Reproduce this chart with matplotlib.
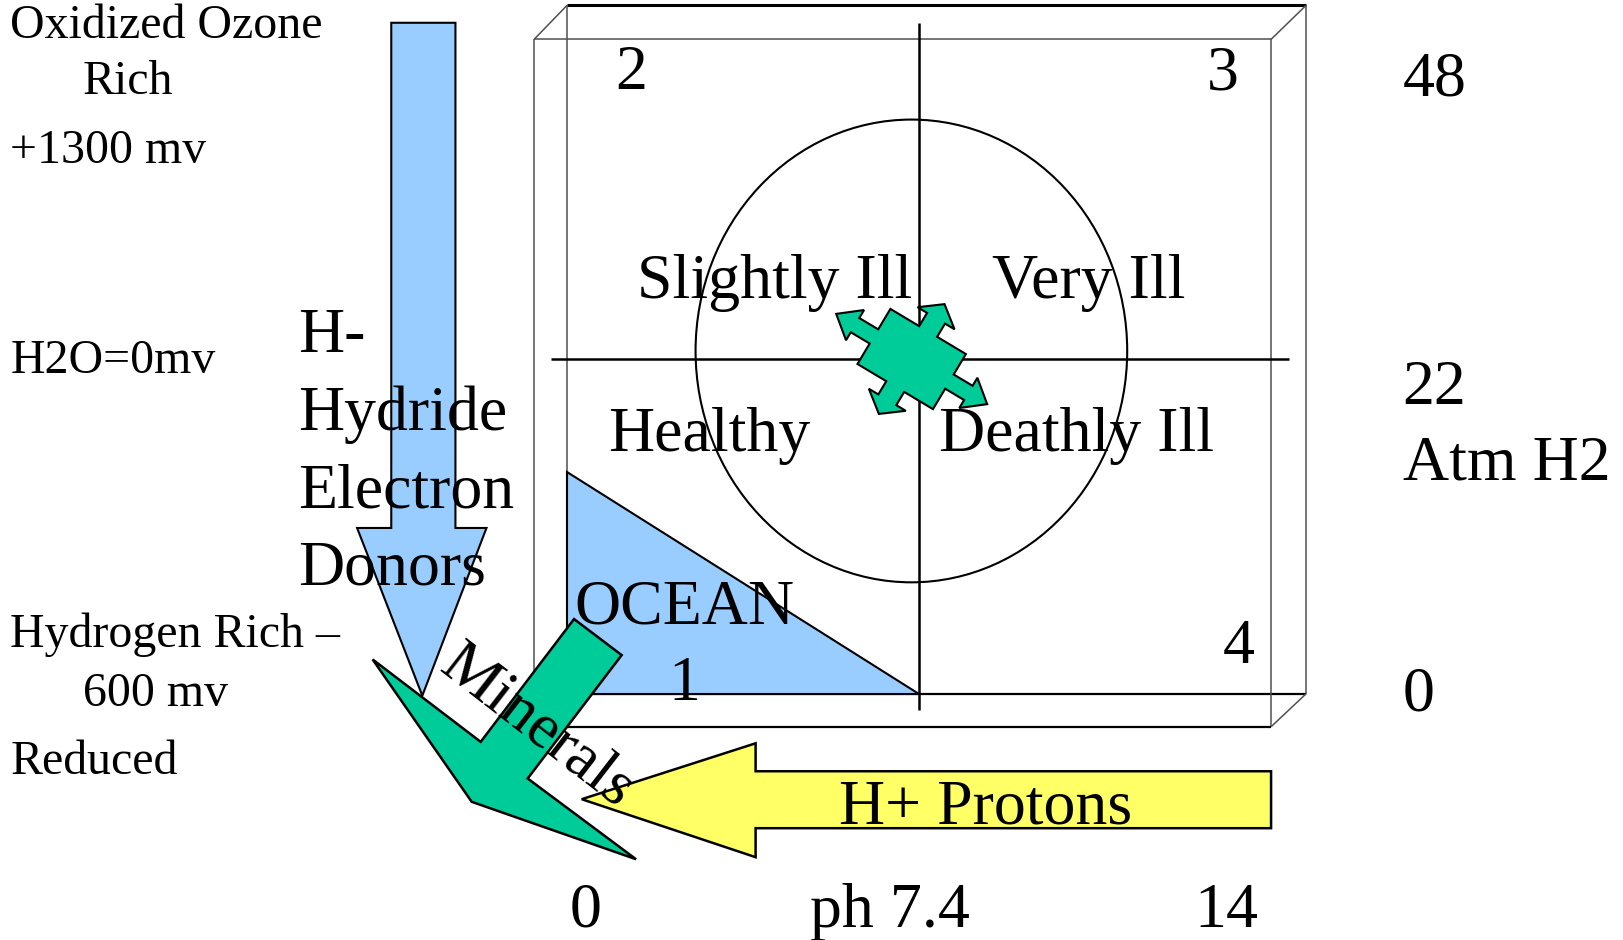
import matplotlib
matplotlib.use('Agg')
import matplotlib.pyplot as plt
from matplotlib.patches import Polygon, Ellipse
import numpy as np

plt.rcParams['font.family'] = ['Liberation Serif', 'DejaVu Serif']

# ---- text content of the diagram ----
redox_labels = ["Oxidized Ozone", "Rich", "+1300 mv", "H2O=0mv",
                "Hydrogen Rich \u2013", "600 mv", "Reduced"]
donor_labels = ["H-", "Hydride", "Electron", "Donors"]
quadrant_labels = ["Slightly Ill", "Very Ill", "Healthy", "Deathly Ill"]
corner_numbers = ["2", "3", "4"]
ocean_labels = ["OCEAN", "1"]
h2_ticks = ["48", "22", "Atm H2", "0"]
ph_ticks = ["0", "ph 7.4", "14"]
arrow_labels = ["Minerals", "H+ Protons"]

# ---- canvas in reference pixel units ----
W, H = 1568, 908
fig = plt.figure(figsize=(16.23, 9.40), dpi=100)
ax = fig.add_axes([0, 0, 1, 1])
ax.set_xlim(0, W)
ax.set_ylim(H, 0)
ax.axis('off')

BLUE = '#99CCFF'
GREEN = '#00CC99'
YELLOW = '#FFFF66'
GRAY = '#505050'
SMALL = 34.5
BIG = 46


def seg(p, q, color='black', lw=1.2, z=1):
    ax.plot([p[0], q[0]], [p[1], q[1]], color=color, lw=lw,
            solid_capstyle='butt', zorder=z)


# ---- 3D box ----
seg((548, 5), (1262, 5), 'black', 2.2)
seg((548, 5), (548, 670), GRAY, 1.1)
seg((1262, 5), (1262, 670), GRAY, 1.1)
seg((548, 670), (1262, 670), 'black', 1.6)
seg((516, 38), (1228, 38), GRAY, 1.1)
seg((516, 38), (516, 702), GRAY, 1.1)
seg((1228, 38), (1228, 702), GRAY, 1.1)
seg((516, 702), (1228, 702), 'black', 1.6)
seg((516, 38), (548, 5), GRAY, 1.1)
seg((1228, 38), (1262, 5), GRAY, 1.1)
seg((1228, 702), (1262, 670), GRAY, 1.1)
seg((516, 702), (548, 670), GRAY, 1.1)

# quadrant cross lines
seg((888, 22), (888, 686), 'black', 1.8, 2)
seg((532, 347), (1245, 347), 'black', 1.8, 2)

# circle
ax.add_patch(Ellipse((880.5, 339), 417, 447, fill=False, ec='black',
                     lw=1.5, zorder=2))

# ocean triangle
ax.add_patch(Polygon([(548, 456), (548, 670), (888, 670)], closed=True,
                     fc=BLUE, ec='black', lw=1.5, zorder=3))

# blue down arrow
ax.add_patch(Polygon([(378, 22), (440, 22), (440, 510), (470, 510),
                      (408, 672), (345, 510), (378, 510)], closed=True,
                     fc=BLUE, ec='black', lw=1.5, zorder=3))

# big green bent arrow
ax.add_patch(Polygon([(360, 637), (464.4, 716.6), (554.6, 598),
                      (600.6, 632.8), (509.8, 752), (614.5, 830),
                      (455.7, 774.5)], closed=True,
                     fc=GREEN, ec='black', lw=1.8, zorder=4))

# yellow arrow
ax.add_patch(Polygon([(1228, 745), (1228, 800), (730, 800), (730, 828),
                      (562, 772), (730, 718), (730, 745)], closed=True,
                     fc=YELLOW, ec='black', lw=1.8, zorder=4))

# green four-way arrow
A, B = 42.5, 31
sw, hb, hw, tp = 8, 63.8, 17, 85
sw2, hb2, hw2, tp2 = 10.1, 45.9, 20.8, 61.8
local = [(A, -sw), (hb, -sw), (hb, -hw), (tp, 0), (hb, hw), (hb, sw), (A, sw),
         (A, B), (sw2, B), (sw2, hb2), (hw2, hb2), (0, tp2), (-hw2, hb2),
         (-sw2, hb2), (-sw2, B), (-A, B), (-A, sw), (-hb, sw), (-hb, hw),
         (-tp, 0), (-hb, -hw), (-hb, -sw), (-A, -sw), (-A, -B), (-sw2, -B),
         (-sw2, -hb2), (-hw2, -hb2), (0, -tp2), (hw2, -hb2), (sw2, -hb2),
         (sw2, -B), (A, -B)]
c = np.array([880.8, 346.8])
eu = np.array([0.858, 0.513])
ev = np.array([0.513, -0.858])
pts = [c + u * eu + v * ev for u, v in local]
ax.add_patch(Polygon(pts, closed=True, fc=GREEN, ec='black', lw=1.5,
                     zorder=5))


def txt(s, x, y, size, ha='left', **kw):
    ax.text(x, y, s, fontsize=size, ha=ha, va='baseline', color='black',
            zorder=10, **kw)


# left redox labels
redox_pos = [(10, 37), (80, 91), (10, 157), (10, 360), (10, 625), (80, 682),
             (10, 748)]
for s, (x, y) in zip(redox_labels, redox_pos):
    txt(s, x, y, SMALL)

# donor labels
for s, y in zip(donor_labels, [340, 415, 490, 565]):
    txt(s, 288, y, BIG)

# quadrant labels
quad_pos = [(615, 288), (958, 288), (588, 436), (907, 436)]
for s, (x, y) in zip(quadrant_labels, quad_pos):
    txt(s, x, y, BIG)

# ocean
txt(ocean_labels[0], 555, 602, BIG)
txt(ocean_labels[1], 661, 676, BIG, ha='center')

# corner numbers
for s, (x, y) in zip(corner_numbers, [(610, 86), (1181, 86), (1197, 640)]):
    txt(s, x, y, BIG, ha='center')

# right H2 scale
for s, y in zip(h2_ticks, [92, 390, 463, 686]):
    txt(s, 1355, y, BIG)

# bottom pH scale
for s, x in zip(ph_ticks, [566, 860, 1185]):
    txt(s, x, 895, BIG, ha='center')

# arrow labels
ax.text(423, 647, arrow_labels[0], fontsize=BIG, rotation=-37.7,
        rotation_mode='anchor', ha='left', va='baseline', zorder=10)
txt(arrow_labels[1], 952, 795, BIG, ha='center')

fig.savefig('out.png', dpi=100)
